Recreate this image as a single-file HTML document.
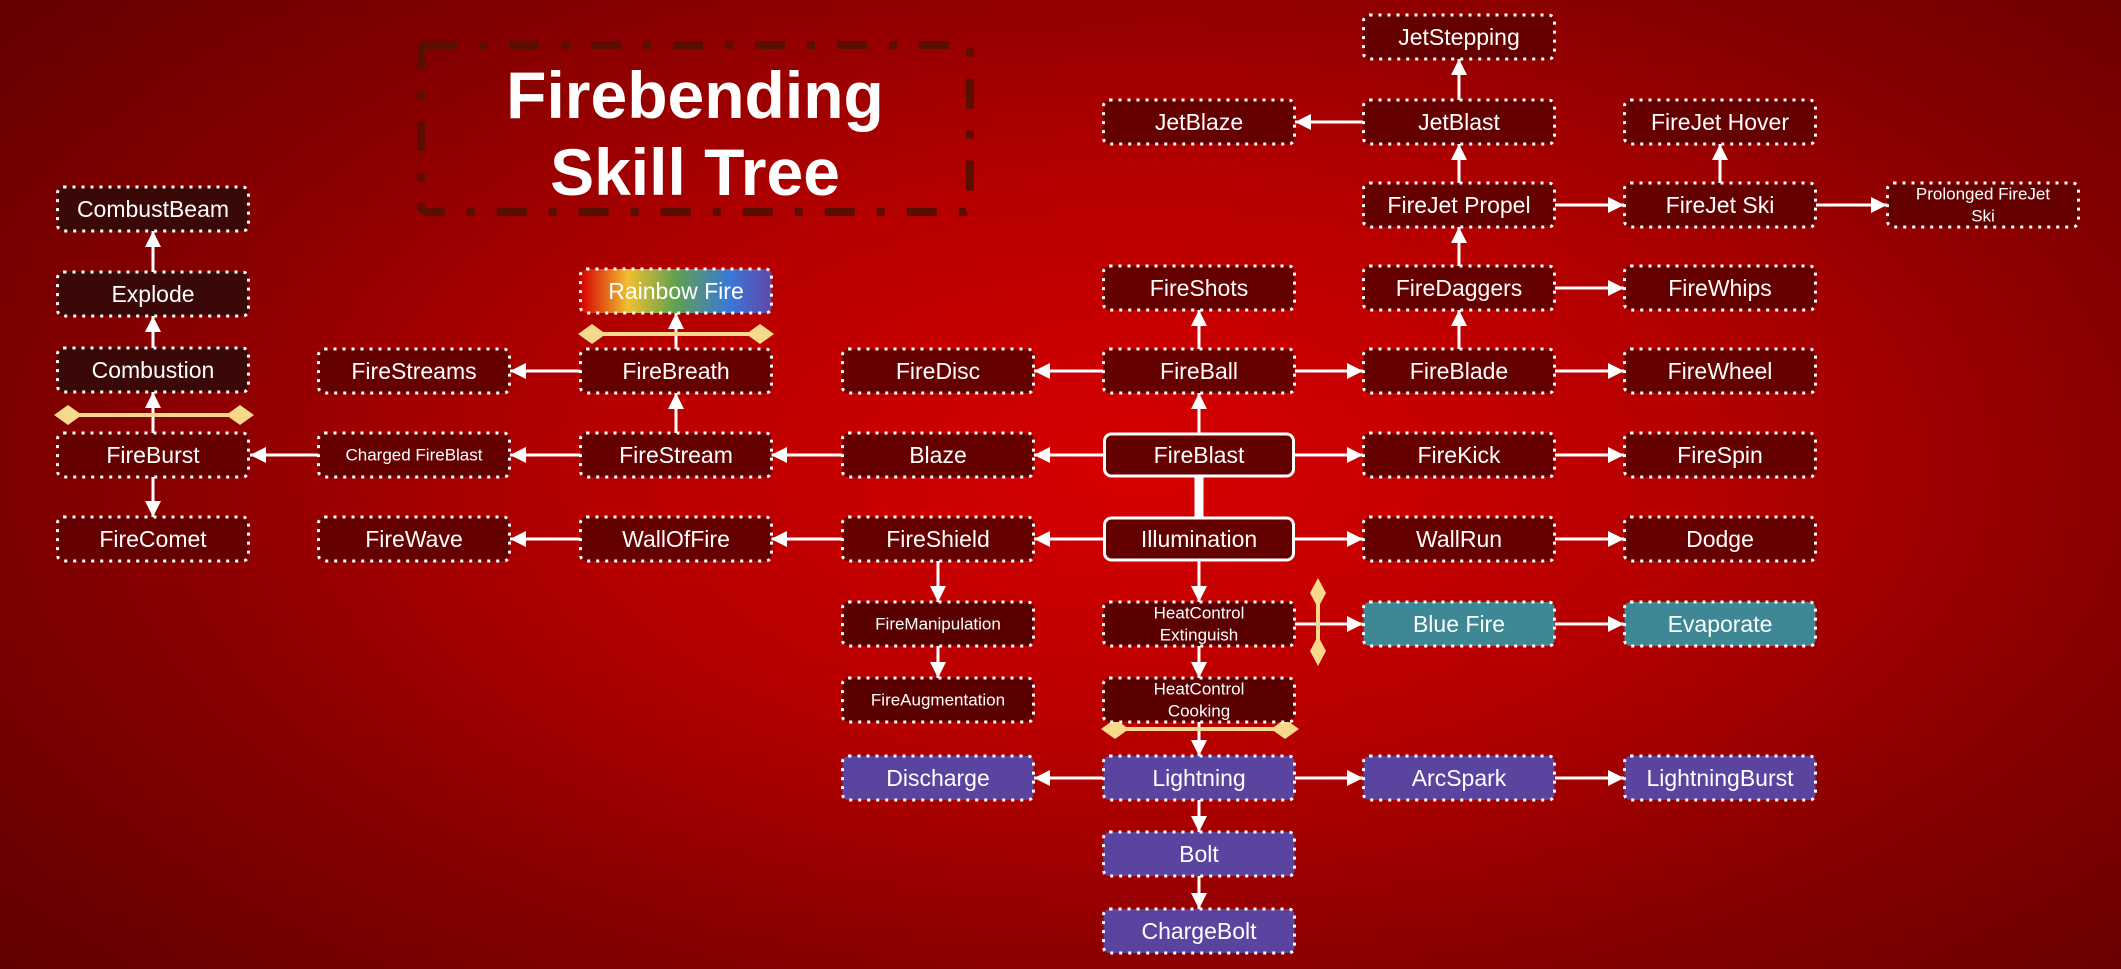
<!DOCTYPE html>
<html><head><meta charset="utf-8"><style>
html,body{margin:0;padding:0;width:2121px;height:969px;overflow:hidden}
body{background:radial-gradient(ellipse 75% 85% at 54% 48%,#d80000 0%,#b50000 35%,#850000 65%,#5a0000 100%)}
svg{position:absolute;left:0;top:0}
text{font-family:"Liberation Sans",sans-serif;fill:#fff;text-anchor:middle;dominant-baseline:central}
.t{font-size:23px}.s{font-size:17px}
.b{stroke:#fff;stroke-width:3;stroke-dasharray:3 6}
.d{fill:#650000}.l{fill:#3a0806}.m{fill:#5a0000}.p{fill:#5b43a0}.q{fill:#3e8896}
.e{stroke:#fff;stroke-width:3;fill:none;marker-end:url(#a)}
.y{stroke:#f6d98a;stroke-width:4}.yd{fill:#f6d98a}
</style></head><body>
<svg width="2121" height="969" viewBox="0 0 2121 969">
<defs>
<linearGradient id="rb" x1="0" x2="1"><stop offset="0" stop-color="#d80000"/><stop offset=".25" stop-color="#f0c030"/><stop offset=".5" stop-color="#60a050"/><stop offset=".78" stop-color="#3a78d8"/><stop offset="1" stop-color="#6048a8"/></linearGradient>
<marker id="a" markerUnits="userSpaceOnUse" markerWidth="20" markerHeight="20" refX="16" refY="8" orient="auto"><path d="M0,0 L16,8 L0,16 z" fill="#fff"/></marker>
</defs>
<!-- title -->
<rect x="421" y="45" width="549" height="167" rx="6" fill="none" stroke="#5a0e00" stroke-width="8" stroke-dasharray="30 22 8 22"/>
<text x="695" y="95" style="font-size:66px;font-weight:bold">Firebending</text>
<text x="695" y="172" style="font-size:66px;font-weight:bold">Skill Tree</text>

<!-- edges -->
<line x1="1199" y1="477" x2="1199" y2="517" stroke="#fff" stroke-width="9"/>
<g>
<line class="e" x1="1199" y1="433" x2="1199" y2="393"/>
<line class="e" x1="1103" y1="455" x2="1034" y2="455"/>
<line class="e" x1="1295" y1="455" x2="1363" y2="455"/>
<line class="e" x1="1555" y1="455" x2="1624" y2="455"/>
<line class="e" x1="1199" y1="349" x2="1199" y2="310"/>
<line class="e" x1="1103" y1="371" x2="1034" y2="371"/>
<line class="e" x1="1295" y1="371" x2="1363" y2="371"/>
<line class="e" x1="1555" y1="371" x2="1624" y2="371"/>
<line class="e" x1="1459" y1="349" x2="1459" y2="310"/>
<line class="e" x1="1555" y1="288" x2="1624" y2="288"/>
<line class="e" x1="1459" y1="266" x2="1459" y2="227"/>
<line class="e" x1="1555" y1="205" x2="1624" y2="205"/>
<line class="e" x1="1816" y1="205" x2="1887" y2="205"/>
<line class="e" x1="1720" y1="183" x2="1720" y2="144"/>
<line class="e" x1="1459" y1="183" x2="1459" y2="144"/>
<line class="e" x1="1459" y1="100" x2="1459" y2="59"/>
<line class="e" x1="1363" y1="122" x2="1295" y2="122"/>
<line class="e" x1="842" y1="455" x2="771" y2="455"/>
<line class="e" x1="580" y1="455" x2="510" y2="455"/>
<line class="e" x1="318" y1="455" x2="250" y2="455"/>
<line class="e" x1="676" y1="433" x2="676" y2="393"/>
<line class="e" x1="580" y1="371" x2="510" y2="371"/>
<line class="e" x1="676" y1="349" x2="676" y2="313"/>
<line class="e" x1="153" y1="433" x2="153" y2="392"/>
<line class="e" x1="153" y1="477" x2="153" y2="517"/>
<line class="e" x1="153" y1="348" x2="153" y2="316"/>
<line class="e" x1="153" y1="272" x2="153" y2="231"/>
<line class="e" x1="1103" y1="539" x2="1034" y2="539"/>
<line class="e" x1="842" y1="539" x2="771" y2="539"/>
<line class="e" x1="580" y1="539" x2="510" y2="539"/>
<line class="e" x1="938" y1="561" x2="938" y2="602"/>
<line class="e" x1="938" y1="646" x2="938" y2="678"/>
<line class="e" x1="1295" y1="539" x2="1363" y2="539"/>
<line class="e" x1="1555" y1="539" x2="1624" y2="539"/>
<line class="e" x1="1199" y1="561" x2="1199" y2="602"/>
<line class="e" x1="1199" y1="646" x2="1199" y2="678"/>
<line class="e" x1="1295" y1="624" x2="1363" y2="624"/>
<line class="e" x1="1555" y1="624" x2="1624" y2="624"/>
<line class="e" x1="1199" y1="722" x2="1199" y2="756"/>
<line class="e" x1="1103" y1="778" x2="1034" y2="778"/>
<line class="e" x1="1295" y1="778" x2="1363" y2="778"/>
<line class="e" x1="1555" y1="778" x2="1624" y2="778"/>
<line class="e" x1="1199" y1="800" x2="1199" y2="832"/>
<line class="e" x1="1199" y1="876" x2="1199" y2="909"/>
</g>
<!-- yellow bars -->
<line class="y" x1="590" y1="334" x2="762" y2="334"/>
<path class="yd" d="M578,334 L592,324 L606,334 L592,344z M746,334 L760,324 L774,334 L760,344z"/>
<line class="y" x1="66" y1="415" x2="242" y2="415"/>
<path class="yd" d="M54,415 L68,405 L82,415 L68,425z M226,415 L240,405 L254,415 L240,425z"/>
<line class="y" x1="1112" y1="729" x2="1288" y2="729"/>
<path class="yd" d="M1101,729 L1115,719 L1129,729 L1115,739z M1271,729 L1285,719 L1299,729 L1285,739z"/>
<line class="y" x1="1318" y1="590" x2="1318" y2="656"/>
<path class="yd" d="M1318,578 L1326,593 L1318,608 L1310,593z M1318,636 L1326,651 L1318,666 L1310,651z"/>

<!-- nodes -->
<g class="b">
<rect class="d" x="1363.5" y="15" width="191" height="44" rx="6"/>
<rect class="d" x="1103.5" y="100" width="191" height="44" rx="6"/>
<rect class="d" x="1363.5" y="100" width="191" height="44" rx="6"/>
<rect class="d" x="1624.5" y="100" width="191" height="44" rx="6"/>
<rect class="l" x="57.5" y="187" width="191" height="44" rx="6"/>
<rect class="d" x="1363.5" y="183" width="191" height="44" rx="6"/>
<rect class="d" x="1624.5" y="183" width="191" height="44" rx="6"/>
<rect class="d" x="1887.5" y="183" width="191" height="44" rx="6"/>
<rect class="l" x="57.5" y="272" width="191" height="44" rx="6"/>
<rect fill="url(#rb)" x="580.5" y="269" width="191" height="44" rx="6"/>
<rect class="d" x="1103.5" y="266" width="191" height="44" rx="6"/>
<rect class="d" x="1363.5" y="266" width="191" height="44" rx="6"/>
<rect class="d" x="1624.5" y="266" width="191" height="44" rx="6"/>
<rect class="l" x="57.5" y="348" width="191" height="44" rx="6"/>
<rect class="d" x="318.5" y="349" width="191" height="44" rx="6"/>
<rect class="d" x="580.5" y="349" width="191" height="44" rx="6"/>
<rect class="d" x="842.5" y="349" width="191" height="44" rx="6"/>
<rect class="d" x="1103.5" y="349" width="191" height="44" rx="6"/>
<rect class="d" x="1363.5" y="349" width="191" height="44" rx="6"/>
<rect class="d" x="1624.5" y="349" width="191" height="44" rx="6"/>
<rect class="d" x="57.5" y="433" width="191" height="44" rx="6"/>
<rect class="d" x="318.5" y="433" width="191" height="44" rx="6"/>
<rect class="d" x="580.5" y="433" width="191" height="44" rx="6"/>
<rect class="d" x="842.5" y="433" width="191" height="44" rx="6"/>
<rect class="d" x="1363.5" y="433" width="191" height="44" rx="6"/>
<rect class="d" x="1624.5" y="433" width="191" height="44" rx="6"/>
<rect class="d" x="57.5" y="517" width="191" height="44" rx="6"/>
<rect class="d" x="318.5" y="517" width="191" height="44" rx="6"/>
<rect class="d" x="580.5" y="517" width="191" height="44" rx="6"/>
<rect class="d" x="842.5" y="517" width="191" height="44" rx="6"/>
<rect class="d" x="1363.5" y="517" width="191" height="44" rx="6"/>
<rect class="d" x="1624.5" y="517" width="191" height="44" rx="6"/>
<rect class="m" x="842.5" y="602" width="191" height="44" rx="6"/>
<rect class="m" x="1103.5" y="602" width="191" height="44" rx="6"/>
<rect class="q" x="1363.5" y="602" width="191" height="44" rx="6"/>
<rect class="q" x="1624.5" y="602" width="191" height="44" rx="6"/>
<rect class="m" x="842.5" y="678" width="191" height="44" rx="6"/>
<rect class="m" x="1103.5" y="678" width="191" height="44" rx="6"/>
<rect class="p" x="842.5" y="756" width="191" height="44" rx="6"/>
<rect class="p" x="1103.5" y="756" width="191" height="44" rx="6"/>
<rect class="p" x="1363.5" y="756" width="191" height="44" rx="6"/>
<rect class="p" x="1624.5" y="756" width="191" height="44" rx="6"/>
<rect class="p" x="1103.5" y="832" width="191" height="44" rx="6"/>
<rect class="p" x="1103.5" y="909" width="191" height="44" rx="6"/>
</g>
<rect x="1104.5" y="434" width="189" height="42" rx="7" fill="#630000" stroke="#fff" stroke-width="3"/>
<rect x="1104.5" y="518" width="189" height="42" rx="7" fill="#630000" stroke="#fff" stroke-width="3"/>

<!-- labels -->
<g class="t">
<text x="1459" y="37">JetStepping</text>
<text x="1199" y="122">JetBlaze</text>
<text x="1459" y="122">JetBlast</text>
<text x="1720" y="122">FireJet Hover</text>
<text x="153" y="209">CombustBeam</text>
<text x="1459" y="205">FireJet Propel</text>
<text x="1720" y="205">FireJet Ski</text>
<text x="153" y="294">Explode</text>
<text x="676" y="291">Rainbow Fire</text>
<text x="1199" y="288">FireShots</text>
<text x="1459" y="288">FireDaggers</text>
<text x="1720" y="288">FireWhips</text>
<text x="153" y="370">Combustion</text>
<text x="414" y="371">FireStreams</text>
<text x="676" y="371">FireBreath</text>
<text x="938" y="371">FireDisc</text>
<text x="1199" y="371">FireBall</text>
<text x="1459" y="371">FireBlade</text>
<text x="1720" y="371">FireWheel</text>
<text x="153" y="455">FireBurst</text>
<text x="676" y="455">FireStream</text>
<text x="938" y="455">Blaze</text>
<text x="1199" y="455">FireBlast</text>
<text x="1459" y="455">FireKick</text>
<text x="1720" y="455">FireSpin</text>
<text x="153" y="539">FireComet</text>
<text x="414" y="539">FireWave</text>
<text x="676" y="539">WallOfFire</text>
<text x="938" y="539">FireShield</text>
<text x="1199" y="539">Illumination</text>
<text x="1459" y="539">WallRun</text>
<text x="1720" y="539">Dodge</text>
<text x="1459" y="624">Blue Fire</text>
<text x="1720" y="624">Evaporate</text>
<text x="938" y="778">Discharge</text>
<text x="1199" y="778">Lightning</text>
<text x="1459" y="778">ArcSpark</text>
<text x="1720" y="778">LightningBurst</text>
<text x="1199" y="854">Bolt</text>
<text x="1199" y="931">ChargeBolt</text>
</g>
<g class="s">
<text x="1983" y="194">Prolonged FireJet</text>
<text x="1983" y="216">Ski</text>
<text x="414" y="455">Charged FireBlast</text>
<text x="938" y="624">FireManipulation</text>
<text x="938" y="700">FireAugmentation</text>
<text x="1199" y="613">HeatControl</text>
<text x="1199" y="635">Extinguish</text>
<text x="1199" y="689">HeatControl</text>
<text x="1199" y="711">Cooking</text>
</g>
</svg>
</body></html>
